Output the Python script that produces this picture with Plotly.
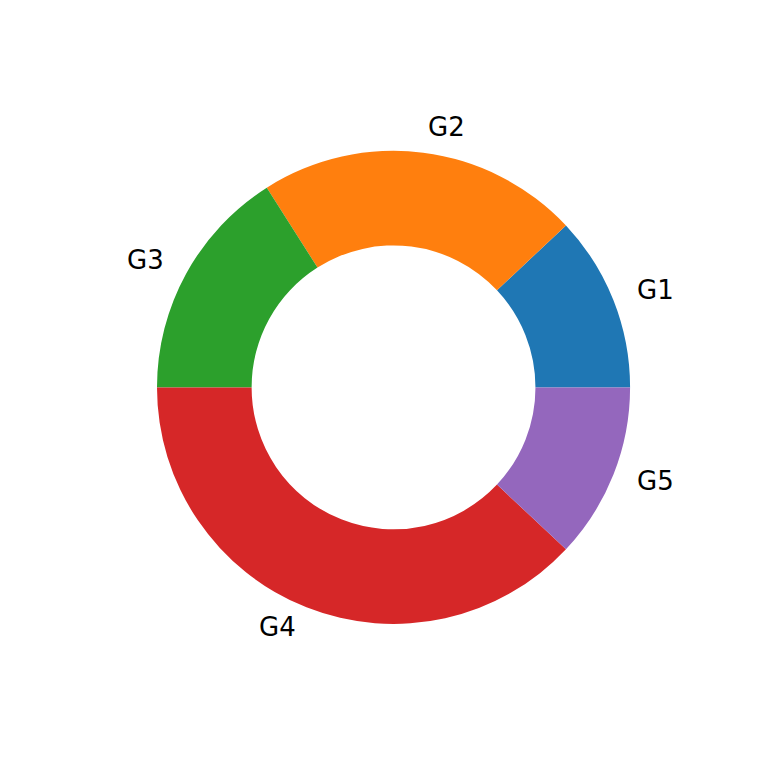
import numpy as np
import plotly.graph_objects as go

labels = ["G1", "G2", "G3", "G4", "G5"]
values = [12, 22, 16, 38, 12]
colors = ["#1f77b4", "#ff7f0e", "#2ca02c", "#d62728", "#9467bd"]

# pie centre/radius in paper coords (page body has an 8px margin)
cx, cy, r = 0.502, 0.506, 0.308

total = sum(values)
# first slice starts at 3 o'clock and runs counterclockwise
start_rot = 90 - 360 * values[0] / total

fig = go.Figure(go.Pie(
    labels=labels, values=values, hole=0.6, sort=False,
    direction="counterclockwise", rotation=start_rot,
    marker=dict(colors=colors, line=dict(width=0)),
    textinfo="none", hoverinfo="label+value", showlegend=False,
    domain=dict(x=[cx - r, cx + r], y=[cy - r, cy + r]),
))

# labels outside at 1.1 x radius, like matplotlib labeldistance
cum = np.cumsum([0] + values)
for i, lab in enumerate(labels):
    mid = np.deg2rad(360 * (cum[i] + cum[i + 1]) / 2 / total)
    x = cx + 1.1 * r * np.cos(mid)
    y = cy + 1.1 * r * np.sin(mid)
    fig.add_annotation(x=x, y=y, xref="paper", yref="paper", text=lab,
                       showarrow=False, xanchor="left" if np.cos(mid) > 0 else "right",
                       yanchor="middle", yshift=2,
                       font=dict(size=26, color="black", family="DejaVu Sans"))

fig.update_layout(width=768, height=768, margin=dict(l=0, r=0, t=0, b=0),
                  paper_bgcolor="white", plot_bgcolor="white")
fig.write_html("out.html")
